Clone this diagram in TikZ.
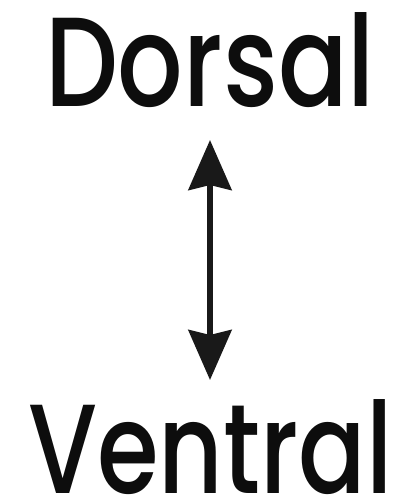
\documentclass[tikz,border=0pt]{standalone}
\usepackage{fontspec}
\usetikzlibrary{arrows.meta}
\newfontfamily\labelfont{Poppins}[UprightFont=* Medium]
\tikzset{
  word/.style={inner sep=0pt, anchor=base, text depth=0pt, text=black!95,
    font=\labelfont\fontsize{127}{127}\selectfont},
  dirarrow/.style={line width=6pt, draw=black!90,
    {Stealth[length=50pt,width=43pt,inset=5pt]}-{Stealth[length=50pt,width=43pt,inset=5pt]}}
}
\begin{document}
\begin{tikzpicture}[x=1pt,y=1pt]
\useasboundingbox (0,0) rectangle (405,501);
\node[word, xscale=0.81] (dorsal) at (210,394) {Dorsal};
\node[word, xscale=0.785] (ventral) at (210.5,8) {Ventral};
\coordinate (atop) at (210,361);
\coordinate (abot) at (210,121);
\draw[dirarrow] (atop) -- (abot);
\end{tikzpicture}
\end{document}
